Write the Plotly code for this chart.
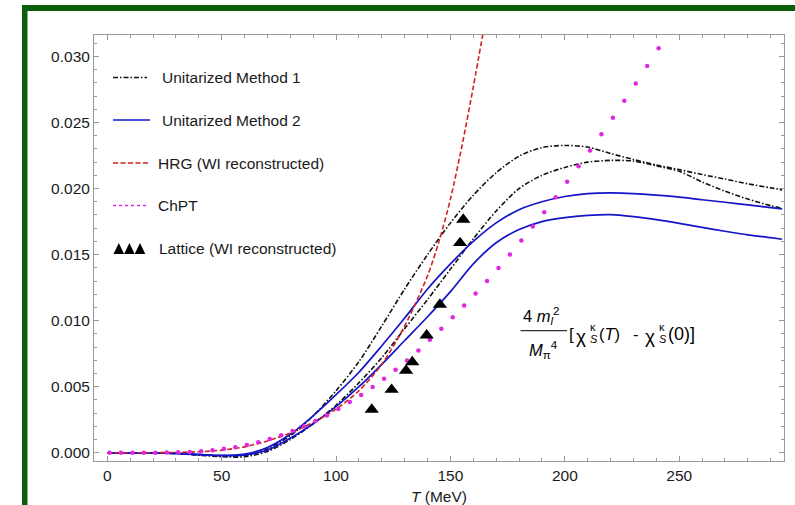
import plotly.graph_objects as go

# ---------------- data ----------------
T_grid = [0, 10, 20, 30, 40, 50, 60, 70, 80, 90, 100, 110, 120, 130, 140, 150,
          160, 170, 180, 190, 200, 210, 220, 230, 240, 250, 260, 270, 280, 290, 295]

m1_upper = [0, 0, -0.00001, -0.00005, -0.00015, -0.00025, -0.0002, 0.0003, 0.0013, 0.0028,
            0.0047, 0.0069, 0.0096, 0.0124, 0.0150, 0.0174, 0.0195, 0.0212, 0.02245, 0.0231,
            0.02326, 0.02314, 0.02265, 0.0222, 0.02178, 0.02143, 0.02106, 0.02072, 0.02036,
            0.02005, 0.0199]
m1_lower = [0, 0, -0.00001, -0.00006, -0.00018, -0.0003, -0.0003, 0.0001, 0.0010, 0.0022,
            0.0036, 0.0053, 0.0072, 0.0094, 0.0116, 0.0139, 0.0162, 0.0183, 0.0200, 0.0210,
            0.0216, 0.0220, 0.02213, 0.02208, 0.02172, 0.0213, 0.0205, 0.0198, 0.0192,
            0.0187, 0.0185]
m2_upper = [0, 0, -0.00001, -0.00004, -0.00012, -0.0002, -0.0001, 0.0004, 0.0014, 0.0028,
            0.0044, 0.0061, 0.0081, 0.0102, 0.0124, 0.0143, 0.0160, 0.0174, 0.0184, 0.0190,
            0.0194, 0.01962, 0.01967, 0.01962, 0.0195, 0.01935, 0.01915, 0.01896, 0.01876,
            0.01856, 0.01846]
m2_lower = [0, 0, -0.00001, -0.00005, -0.00014, -0.00022, -0.00015, 0.0002, 0.0011, 0.0022,
            0.0035, 0.0050, 0.0067, 0.0085, 0.0103, 0.0122, 0.0143, 0.0159, 0.0169, 0.0175,
            0.0178, 0.01797, 0.01803, 0.01788, 0.01765, 0.01737, 0.01706, 0.01677, 0.0165,
            0.01628, 0.01616]

T_hrg = [0, 10, 20, 30, 40, 50, 60, 70, 80, 90, 100, 110, 120, 130, 140, 145, 150, 155, 160, 165]
hrg = [0, 0, 0.00001, 0.00003, 0.00008, 0.0002, 0.00045, 0.0009, 0.0015, 0.0023, 0.0033,
       0.0047, 0.0067, 0.0096, 0.0134, 0.0160, 0.0192, 0.0232, 0.0277, 0.0325]

T_chpt = [1, 6, 11, 16, 21, 26, 31, 36, 41, 46, 51, 56, 61, 66, 71, 76, 81, 86, 91, 96,
          101, 106, 111, 116, 121, 126, 131, 136, 141, 146, 151, 156, 161, 166, 171, 176,
          181, 186, 191, 196, 201, 206, 211, 216, 221, 226, 231, 236, 241]
chpt = [0, 0, 0, 0, 0.00001, 0.00002, 0.00004, 0.00007, 0.00012, 0.0002, 0.0003, 0.00043,
        0.0006, 0.0008, 0.00105, 0.00133, 0.00165, 0.002, 0.0024, 0.00283, 0.00331, 0.00384,
        0.00437, 0.00498, 0.00561, 0.00629, 0.00699, 0.00775, 0.00856, 0.00939, 0.01025,
        0.01114, 0.01205, 0.01301, 0.01399, 0.0150, 0.01606, 0.01712, 0.0182, 0.01934,
        0.02051, 0.02169, 0.02288, 0.02411, 0.02535, 0.02664, 0.02795, 0.02927, 0.03061]

T_lat = [115.6, 124.3, 130.6, 133.3, 139.6, 145.4, 154.2, 155.6]
lattice = [0.00327, 0.00478, 0.00622, 0.00687, 0.00889, 0.01122, 0.01588, 0.01765]

x_ticks = [0, 50, 100, 150, 200, 250]
y_ticks = [0.000, 0.005, 0.010, 0.015, 0.020, 0.025, 0.030]

labels = ["Unitarized Method 1", "Unitarized Method 2", "HRG (WI reconstructed)",
          "ChPT", "Lattice (WI reconstructed)"]

# ---------------- styling / layout helpers ----------------
W, H = 795, 505
ML, MR, MT, MB = 94, 11, 35, 44
PW, PH = W - ML - MR, H - MT - MB
FONT = "Liberation Sans, Arial, sans-serif"
BLACK = "#111111"
BLUE = "#1414c8"
RED = "#d02222"
MAG = "#e028e0"
GRAY = "#9a9a9a"
GREEN = "#0b5e0b"
DASHDOT = "5px,2px,1.5px,2px"
TXT = "#1a1a1a"


def px(x):
    return (x - ML) / PW


def py(y):
    return 1 - (y - MT) / PH


fig = go.Figure()

for ys in (m1_upper, m1_lower):
    fig.add_trace(go.Scatter(x=T_grid, y=ys, mode="lines", name=labels[0], showlegend=False,
                             line=dict(color=BLACK, width=1.6, dash=DASHDOT, shape="spline", smoothing=0.8)))
for ys in (m2_upper, m2_lower):
    fig.add_trace(go.Scatter(x=T_grid, y=ys, mode="lines", name=labels[1], showlegend=False,
                             line=dict(color=BLUE, width=1.7, shape="spline", smoothing=0.8)))
fig.add_trace(go.Scatter(x=T_hrg, y=hrg, mode="lines", name=labels[2], showlegend=False,
                         line=dict(color=RED, width=1.6, dash="5px,2.5px", shape="spline", smoothing=0.8)))
fig.add_trace(go.Scatter(x=T_chpt, y=chpt, mode="markers", name=labels[3], showlegend=False,
                         marker=dict(color=MAG, size=4.5)))
fig.add_trace(go.Scatter(x=T_lat, y=lattice, mode="markers", name=labels[4], showlegend=False,
                         marker=dict(color="black", size=12.5, symbol="triangle-up")))

shapes = []
annotations = []

# green frame (left and top bars)
shapes.append(dict(type="rect", xref="paper", yref="paper", x0=px(22), x1=px(27.5),
                   y0=py(505), y1=py(5), fillcolor=GREEN, line=dict(width=0), layer="above"))
shapes.append(dict(type="rect", xref="paper", yref="paper", x0=px(22), x1=px(795),
                   y0=py(11), y1=py(5), fillcolor=GREEN, line=dict(width=0), layer="above"))

# manual legend
leg_y = [77.5, 120, 163, 205.5, 248]
leg_styles = [dict(color=BLACK, width=1.6, dash=DASHDOT),
              dict(color=BLUE, width=1.7),
              dict(color=RED, width=1.6, dash="5px,2.5px"),
              dict(color=MAG, width=1.6, dash="dot")]
leg_x1 = [147, 150, 148, 148]
leg_tx = [160, 160, 156, 156, 157]
for i in range(4):
    shapes.append(dict(type="line", xref="paper", yref="paper", x0=px(113), x1=px(leg_x1[i]),
                       y0=py(leg_y[i]), y1=py(leg_y[i]), line=leg_styles[i]))
for k in range(3):
    x0 = 113.5 + k * 10.6
    path = "M {a},{b} L {c},{b} L {d},{e} Z".format(a=px(x0), b=py(254), c=px(x0 + 10.6),
                                                    d=px(x0 + 5.3), e=py(243))
    shapes.append(dict(type="path", xref="paper", yref="paper", path=path,
                       fillcolor="black", line=dict(width=0)))
for i, lab in enumerate(labels):
    annotations.append(dict(xref="paper", yref="paper", x=px(leg_tx[i]), y=py(leg_y[i]),
                            xanchor="left", yanchor="middle", text=lab, showarrow=False,
                            font=dict(family=FONT, size=15.5, color=TXT)))

# formula
FF = 16.5
annotations.append(dict(xref="paper", yref="paper", x=px(541), y=py(316), xanchor="center",
                        yanchor="middle", showarrow=False,
                        text="4 <i>m<sub>l</sub></i><sup>2</sup>",
                        font=dict(family=FONT, size=FF, color="black")))
shapes.append(dict(type="line", xref="paper", yref="paper", x0=px(520.5), x1=px(567),
                   y0=py(330.7), y1=py(330.7), line=dict(color="black", width=1)))
annotations.append(dict(xref="paper", yref="paper", x=px(543), y=py(350), xanchor="center",
                        yanchor="middle", showarrow=False,
                        text="<i>M</i><sub>π</sub><sup>4</sup>",
                        font=dict(family=FONT, size=FF, color="black")))
pieces = [("[", 567, 334, 17), ("χ", 573.5, 336, 19), ("κ", 587.5, 327, 11), ("<i>S</i>", 587.5, 339, 11),
          ("(<i>T</i>)", 597, 334, FF), ("-", 631, 334, FF), ("χ", 643, 336, 19),
          ("κ", 656.5, 327, 11), ("<i>S</i>", 656.5, 339, 11), ("(0)]", 666, 334, 18)]
for txt, xx, yy, fs in pieces:
    annotations.append(dict(xref="paper", yref="paper", x=px(xx), y=py(yy), xanchor="left",
                            yanchor="middle", showarrow=False, text=txt,
                            font=dict(family=FONT, size=fs, color="black")))

axis_common = dict(showgrid=False, zeroline=False, showline=True, linecolor=GRAY, linewidth=1,
                   mirror="allticks", ticks="inside", ticklen=5, tickwidth=1, tickcolor=GRAY,
                   automargin=False,
                   tickfont=dict(family=FONT, size=15.5, color=TXT))

fig.update_layout(
    width=W, height=H, autosize=False,
    margin=dict(l=ML, r=MR, t=MT, b=MB),
    paper_bgcolor="white", plot_bgcolor="white",
    showlegend=False,
    xaxis=dict(range=[-5.8, 295.8], tickmode="array", tickvals=x_ticks,
               ticktext=[str(v) for v in x_ticks],
               minor=dict(ticks="inside", ticklen=3, dtick=10, tick0=0, tickcolor=GRAY, showgrid=False),
               title=dict(text="<i>T</i> (MeV)", font=dict(family=FONT, size=15.5, color=TXT),
                          standoff=15),
               **axis_common),
    yaxis=dict(range=[-0.00062, 0.03162], tickmode="array", tickvals=y_ticks,
               ticktext=["%.3f" % v for v in y_ticks],
               minor=dict(ticks="inside", ticklen=3, dtick=0.001, tick0=0, tickcolor=GRAY, showgrid=False),
               **axis_common),
    shapes=shapes,
    annotations=annotations,
)

fig.write_html("out.html", config={"displayModeBar": False},
               post_script="document.body.style.margin='0';")
